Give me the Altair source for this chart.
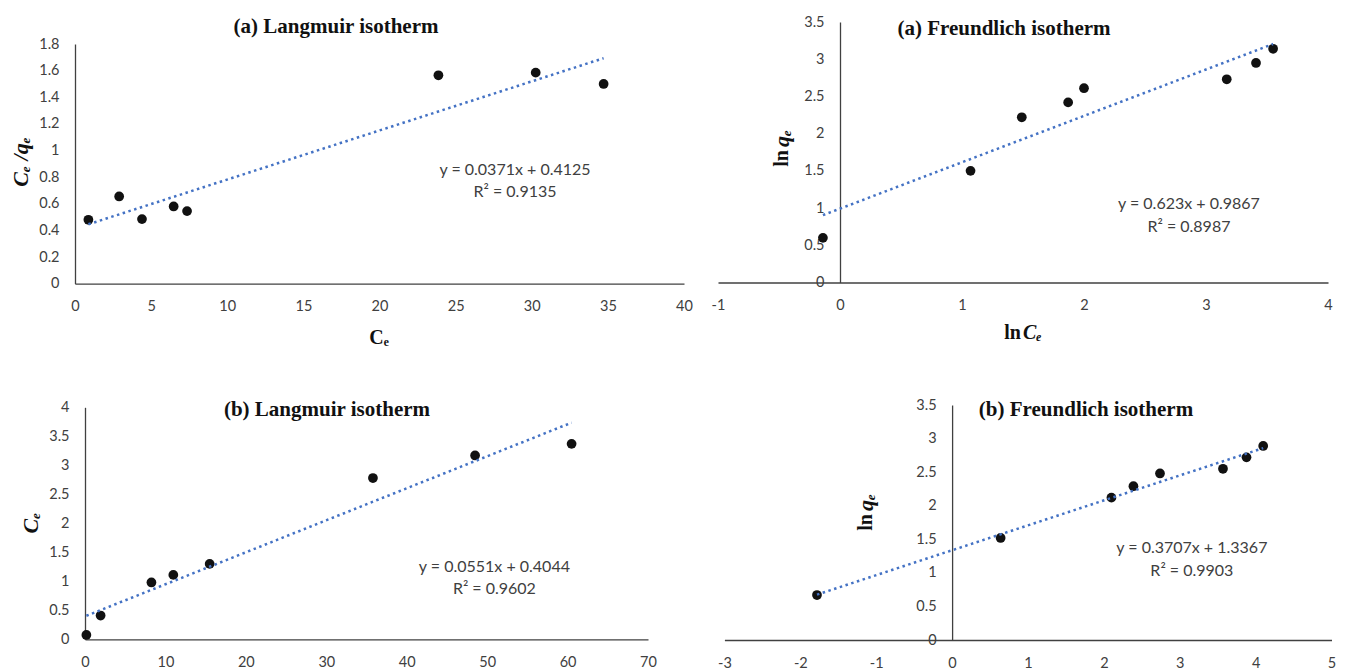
import altair as alt
import pandas as pd

# ---------------- data ----------------
# (a) Langmuir isotherm
la_x = [0.88, 2.90, 4.40, 6.48, 7.36, 23.87, 30.26, 34.72]
la_y = [0.48, 0.655, 0.485, 0.58, 0.545, 1.565, 1.585, 1.50]
# (a) Freundlich isotherm
fa_x = [-0.14, 1.07, 1.49, 1.87, 2.00, 3.17, 3.41, 3.55]
fa_y = [0.60, 1.50, 2.22, 2.42, 2.61, 2.73, 2.95, 3.14]
# (b) Langmuir isotherm
lb_x = [0.17, 1.94, 8.26, 10.98, 15.5, 35.8, 48.5, 60.5]
lb_y = [0.075, 0.41, 0.98, 1.11, 1.30, 2.78, 3.17, 3.37]
# (b) Freundlich isotherm
fb_x = [-1.78, 0.64, 2.10, 2.39, 2.74, 3.57, 3.88, 4.10]
fb_y = [0.67, 1.52, 2.12, 2.29, 2.48, 2.55, 2.72, 2.89]

# tick labels
la_xticks = [0, 5, 10, 15, 20, 25, 30, 35, 40]
la_yticks = [0, 0.2, 0.4, 0.6, 0.8, 1, 1.2, 1.4, 1.6, 1.8]
fa_xticks = [-1, 0, 1, 2, 3, 4]
fa_yticks = [0, 0.5, 1, 1.5, 2, 2.5, 3, 3.5]
lb_xticks = [0, 10, 20, 30, 40, 50, 60, 70]
lb_yticks = [0, 0.5, 1, 1.5, 2, 2.5, 3, 3.5, 4]
fb_xticks = [-3, -2, -1, 0, 1, 2, 3, 4, 5]
fb_yticks = [0, 0.5, 1, 1.5, 2, 2.5, 3, 3.5]

# texts
titles = ["(a) Langmuir isotherm", "(a) Freundlich isotherm",
          "(b) Langmuir isotherm", "(b) Freundlich isotherm"]
la_eq = ["y = 0.0371x + 0.4125", "R² = 0.9135"]
fa_eq = ["y = 0.623x + 0.9867", "R² = 0.8987"]
lb_eq = ["y = 0.0551x + 0.4044", "R² = 0.9602"]
fb_eq = ["y = 0.3707x + 1.3367", "R² = 0.9903"]

W, H = 1347, 671
LABEL_FONT = "Lato"
SERIF = "Liberation Serif"
one = pd.DataFrame({"k": [0]})


def axis(ticks, orient, offset):
    return alt.Axis(values=ticks, orient=orient, offset=offset, ticks=False, grid=False,
                    domainColor="#404040", domainWidth=1.3, labelColor="#404040",
                    labelFont=LABEL_FONT, labelFontSize=14.5, labelPadding=16,
                    labelFlush=False, labelOverlap=False, labelExpr="toString(datum.value)",
                    title=None)


def panel(xs, ys, xdom, ydom, xr, yr, xticks, yticks, yaxis_px, eq, eqx, eqy, ry):
    df = pd.DataFrame({"x": xs, "y": ys})
    xs_ = alt.Scale(domain=xdom, range=xr, nice=False, zero=False)
    ys_ = alt.Scale(domain=ydom, range=yr, nice=False, zero=False)
    pts = alt.Chart(df).mark_circle(size=95, color="#111111", opacity=1).encode(
        x=alt.X("x:Q", scale=xs_, axis=axis(xticks, "bottom", yr[0] - H)),
        y=alt.Y("y:Q", scale=ys_, axis=axis(yticks, "left", -yaxis_px)),
    )
    trend = alt.Chart(df).transform_regression("x", "y").mark_line(
        color="#4472C4", strokeWidth=2.5, strokeDash=[2.5, 3.5]
    ).encode(x="x:Q", y="y:Q")
    t1 = alt.Chart(one).mark_text(text=eq[0], font=LABEL_FONT, fontSize=16,
                                  color="#404040", align="center", baseline="middle").encode(
        x=alt.datum(eqx), y=alt.datum(eqy))
    t2 = alt.Chart(one).mark_text(text=eq[1], font=LABEL_FONT, fontSize=16,
                                  color="#404040", align="center", baseline="middle").encode(
        x=alt.datum(eqx), y=alt.datum(ry))
    return alt.layer(pts, trend, t1, t2)


def txt(s, x, y, size=20, weight="bold", style="normal", angle=0, align="center"):
    return alt.Chart(one).mark_text(text=s, font=SERIF, fontSize=size, fontWeight=weight,
                                    fontStyle=style, angle=angle, align=align,
                                    baseline="middle", color="#111111").encode(
        x=alt.value(x), y=alt.value(y))


p1 = panel(la_x, la_y, [0, 40], [0, 1.8], [75, 684], [283.7, 44], la_xticks, la_yticks,
           75, la_eq, 28.9, 0.854, 0.686)
p2 = panel(fa_x, fa_y, [-1, 4], [0, 3.5], [718, 1328], [282.5, 22], fa_xticks, fa_yticks,
           840, fa_eq, 2.86, 1.055, 0.742)
p3 = panel(lb_x, lb_y, [0, 70], [0, 4], [85, 648], [639.3, 407.3], lb_xticks, lb_yticks,
           85, lb_eq, 50.9, 1.25, 0.86)
p4 = panel(fb_x, fb_y, [-3, 5], [0, 3.5], [724.4, 1331.5], [640, 405], fb_xticks, fb_yticks,
           952.1, fb_eq, 3.16, 1.375, 1.03)

annotations = [
    txt(titles[0], 336, 27, size=21),
    txt(titles[1], 1004, 29, size=21),
    txt(titles[2], 327, 410, size=21),
    txt(titles[3], 1086, 410, size=21),
    # axis titles
    txt("Cₑ /qₑ", 21, 162, size=22, style="italic", angle=270),
    txt("Cₑ", 379, 338, size=20),
    txt("ln", 782, 150, size=20, angle=270, align="right"),
    txt("qₑ", 782, 147, size=22, style="italic", angle=270, align="left"),
    txt("ln", 1021, 333, size=20, align="right"),
    txt("Cₑ", 1023, 333, size=20, style="italic", align="left"),
    txt("Cₑ", 31, 523, size=22, style="italic", angle=270),
    txt("ln", 866, 514, size=20, angle=270, align="right"),
    txt("qₑ", 866, 511, size=22, style="italic", angle=270, align="left"),
]

chart = alt.layer(p1, p2, p3, p4, *annotations).resolve_scale(
    x="independent", y="independent"
).properties(
    width=W, height=H,
    autosize=alt.AutoSizeParams(type="none"),
    padding={"left": -8, "top": -8, "right": -8, "bottom": 0},
    background="white",
).configure_view(stroke=None)

chart.save("out.html", embed_options={"renderer": "svg", "actions": False})
